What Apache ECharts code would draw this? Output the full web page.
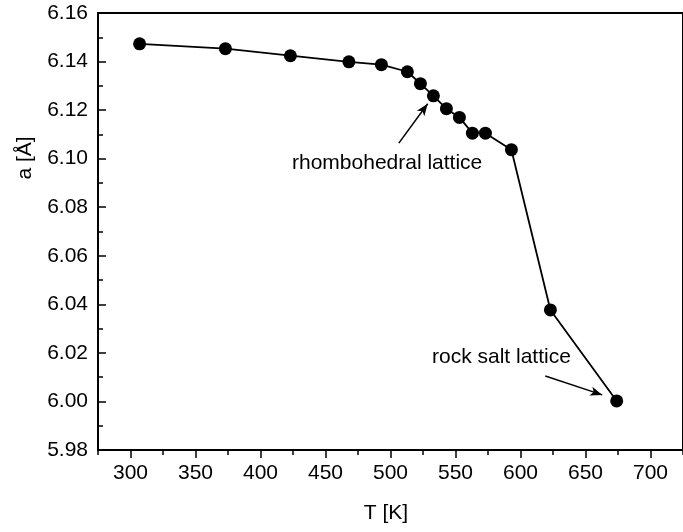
<!DOCTYPE html>
<html>
<head>
<meta charset="utf-8">
<script src="https://cdn.jsdelivr.net/npm/echarts@6/dist/echarts.min.js"></script>
<style>html,body{margin:0;padding:0;background:#fff}#c{width:683px;height:532px}</style>
</head>
<body>
<div id="c"></div>
<script>
// Data
const temperatures = [307, 373, 423, 468, 493, 513, 523, 533, 543, 553, 563, 573, 593, 623, 674];
const latticeA = [6.1473, 6.1453, 6.1424, 6.1399, 6.1387, 6.1358, 6.1309, 6.1259, 6.1206, 6.1170, 6.1105, 6.1105, 6.1037, 6.0377, 6.0002];
const xMajorTicks = [300, 350, 400, 450, 500, 550, 600, 650, 700];
const xMinorTicks = [275, 325, 375, 425, 475, 525, 575, 625, 675, 725];
const rhombArrow = [[506.4, 6.1064], [528.6, 6.1226]];
const rockArrow = [[619.1, 6.0105], [662.9, 6.0027]];

const FONT = 'Liberation Sans';
const chart = echarts.init(document.getElementById('c'));
const points = temperatures.map((t, i) => [t, latticeA[i]]);

chart.setOption({
  animation: false,
  backgroundColor: '#fff',
  grid: { left: 98, top: 13, width: 592.5, height: 437, show: true, borderColor: '#000', borderWidth: 2, backgroundColor: 'transparent' },
  xAxis: [
    {
      type: 'value', min: 275, max: 725,
      axisLine: { show: true, onZero: false, lineStyle: { color: '#000', width: 2 } },
      axisTick: { show: true, customValues: xMajorTicks, length: 8, lineStyle: { color: '#000', width: 1.5 } },
      axisLabel: { show: true, customValues: xMajorTicks, color: '#000', fontFamily: FONT, fontSize: 21, margin: 13 },
      splitLine: { show: false }
    },
    {
      type: 'value', min: 275, max: 725, position: 'bottom',
      axisLine: { show: false },
      axisTick: { show: true, customValues: xMinorTicks, length: 5, lineStyle: { color: '#000', width: 1.5 } },
      axisLabel: { show: false },
      splitLine: { show: false }
    }
  ],
  yAxis: {
    type: 'value', min: 5.98, max: 6.16, interval: 0.02,
    axisLine: { show: true, onZero: false, lineStyle: { color: '#000', width: 2 } },
    axisTick: { show: true, inside: true, length: 8, lineStyle: { color: '#000', width: 1.5 } },
    minorTick: { show: true, splitNumber: 2, length: 5, lineStyle: { color: '#000', width: 1.5 } },
    axisLabel: { color: '#000', fontFamily: FONT, fontSize: 21, margin: 10, formatter: v => v.toFixed(2) },
    splitLine: { show: false }
  },
  series: [{
    type: 'line',
    data: points,
    symbol: 'circle',
    symbolSize: 13,
    itemStyle: { color: '#000' },
    lineStyle: { color: '#000', width: 1.8 },
    markLine: {
      silent: true,
      symbol: ['none', 'arrow'],
      symbolSize: [7, 12],
      label: { show: false },
      lineStyle: { color: '#000', width: 1.5, type: 'solid' },
      data: [
        [{ coord: rhombArrow[0] }, { coord: rhombArrow[1] }],
        [{ coord: rockArrow[0] }, { coord: rockArrow[1] }]
      ]
    }
  }],
  graphic: [
    { type: 'text', style: { text: 'rhombohedral lattice', x: 292, y: 163, textVerticalAlign: 'middle', fontFamily: FONT, fontSize: 21, fill: '#000' } },
    { type: 'text', style: { text: 'rock salt lattice', x: 432, y: 357, textVerticalAlign: 'middle', fontFamily: FONT, fontSize: 21, fill: '#000' } },
    { type: 'text', x: 25, y: 158, rotation: Math.PI / 2, style: { text: 'a [Å]', x: 0, y: 0, textAlign: 'center', textVerticalAlign: 'middle', fontFamily: FONT, fontSize: 21, fill: '#000' } },
    { type: 'text', style: { text: 'T [K]', x: 386, y: 513, textAlign: 'center', textVerticalAlign: 'middle', fontFamily: FONT, fontSize: 21, fill: '#000' } }
  ]
});
</script>
</body>
</html>
